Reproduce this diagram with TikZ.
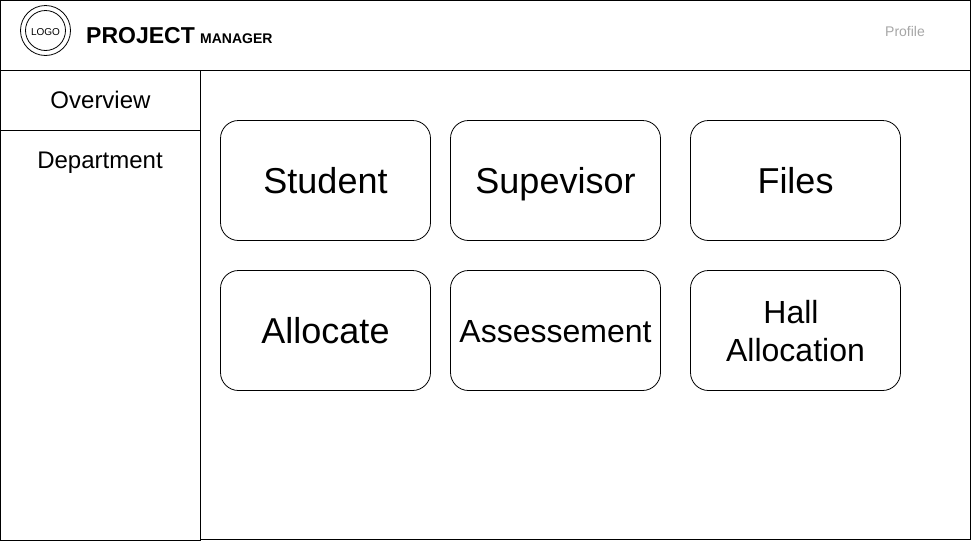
\documentclass[tikz,border=0pt]{standalone}
\usepackage{fontspec}
\setmainfont{Liberation Sans}
\usepackage{xcolor}
\tikzset{
    pane/.style={draw, line width=1pt, rectangle, outer sep=0pt, inner sep=0pt, anchor=north west},
    tile/.style={draw, line width=0.8pt, rectangle, rounded corners=18pt, outer sep=0pt, inner sep=0pt,
        minimum width=210pt, minimum height=120pt, anchor=north west, align=center, text depth=0pt},
    hugetile/.style={tile, font=\fontsize{36}{41}\selectfont, text height=25pt},
    bigtile/.style={tile, font=\fontsize{32}{38}\selectfont, text height=23pt},
    ring/.style={draw, line width=0.8pt, circle, outer sep=0pt, inner sep=0pt},
    caption/.style={inner sep=0pt, anchor=base},
}
\newcommand{\navtext}{\fontsize{24}{28}\selectfont}
\begin{document}
\begin{tikzpicture}[x=1pt, y=-1pt]
    \useasboundingbox (0,0) rectangle (971,541);
    % frame
    \node[pane, minimum width=970pt, minimum height=70pt] (header) at (0.5,0.5) {};
    \node[pane, minimum width=770pt, minimum height=469pt] (content) at (200.5,70.5) {};
    \node[pane, minimum width=200pt, minimum height=470pt] (sidebar) at (0.5,70.5) {};
    \node[pane, minimum width=200pt, minimum height=60pt, font=\navtext, text height=16pt, text depth=0pt] (overview) at (0.5,70.5) {Overview};
    \node[caption, font=\navtext] (department) at (100,168.5) {Department};
    % logo
    \node[ring, minimum size=50pt] (logoouter) at (45.5,30.5) {};
    \node[ring, minimum size=40pt, font=\fontsize{10}{12}\selectfont, text height=9pt, text depth=0pt] (logo) at (45.5,30.5) {LOGO};
    \node[caption, anchor=base west, font=\bfseries\fontsize{23}{27}\selectfont] (project) at (86,43) {PROJECT};
    \node[caption, anchor=base west, font=\bfseries\fontsize{14}{17}\selectfont] (manager) at (200,43) {MANAGER};
    \node[caption, font=\fontsize{14}{17}\selectfont, text=black!35] (profile) at (905,36) {Profile};
    % tiles
    \node[hugetile] (student) at (220.5,120.5) {Student};
    \node[hugetile] (supevisor) at (450.5,120.5) {Supevisor};
    \node[hugetile] (files) at (690.5,120.5) {Files};
    \node[hugetile] (allocate) at (220.5,270.5) {Allocate};
    \node[bigtile] (assessement) at (450.5,270.5) {Assessement};
    \node[bigtile, text height=61pt] (hall) at (690.5,270.5) {Hall\hspace*{8.9pt}\\Allocation};
\end{tikzpicture}
\end{document}
